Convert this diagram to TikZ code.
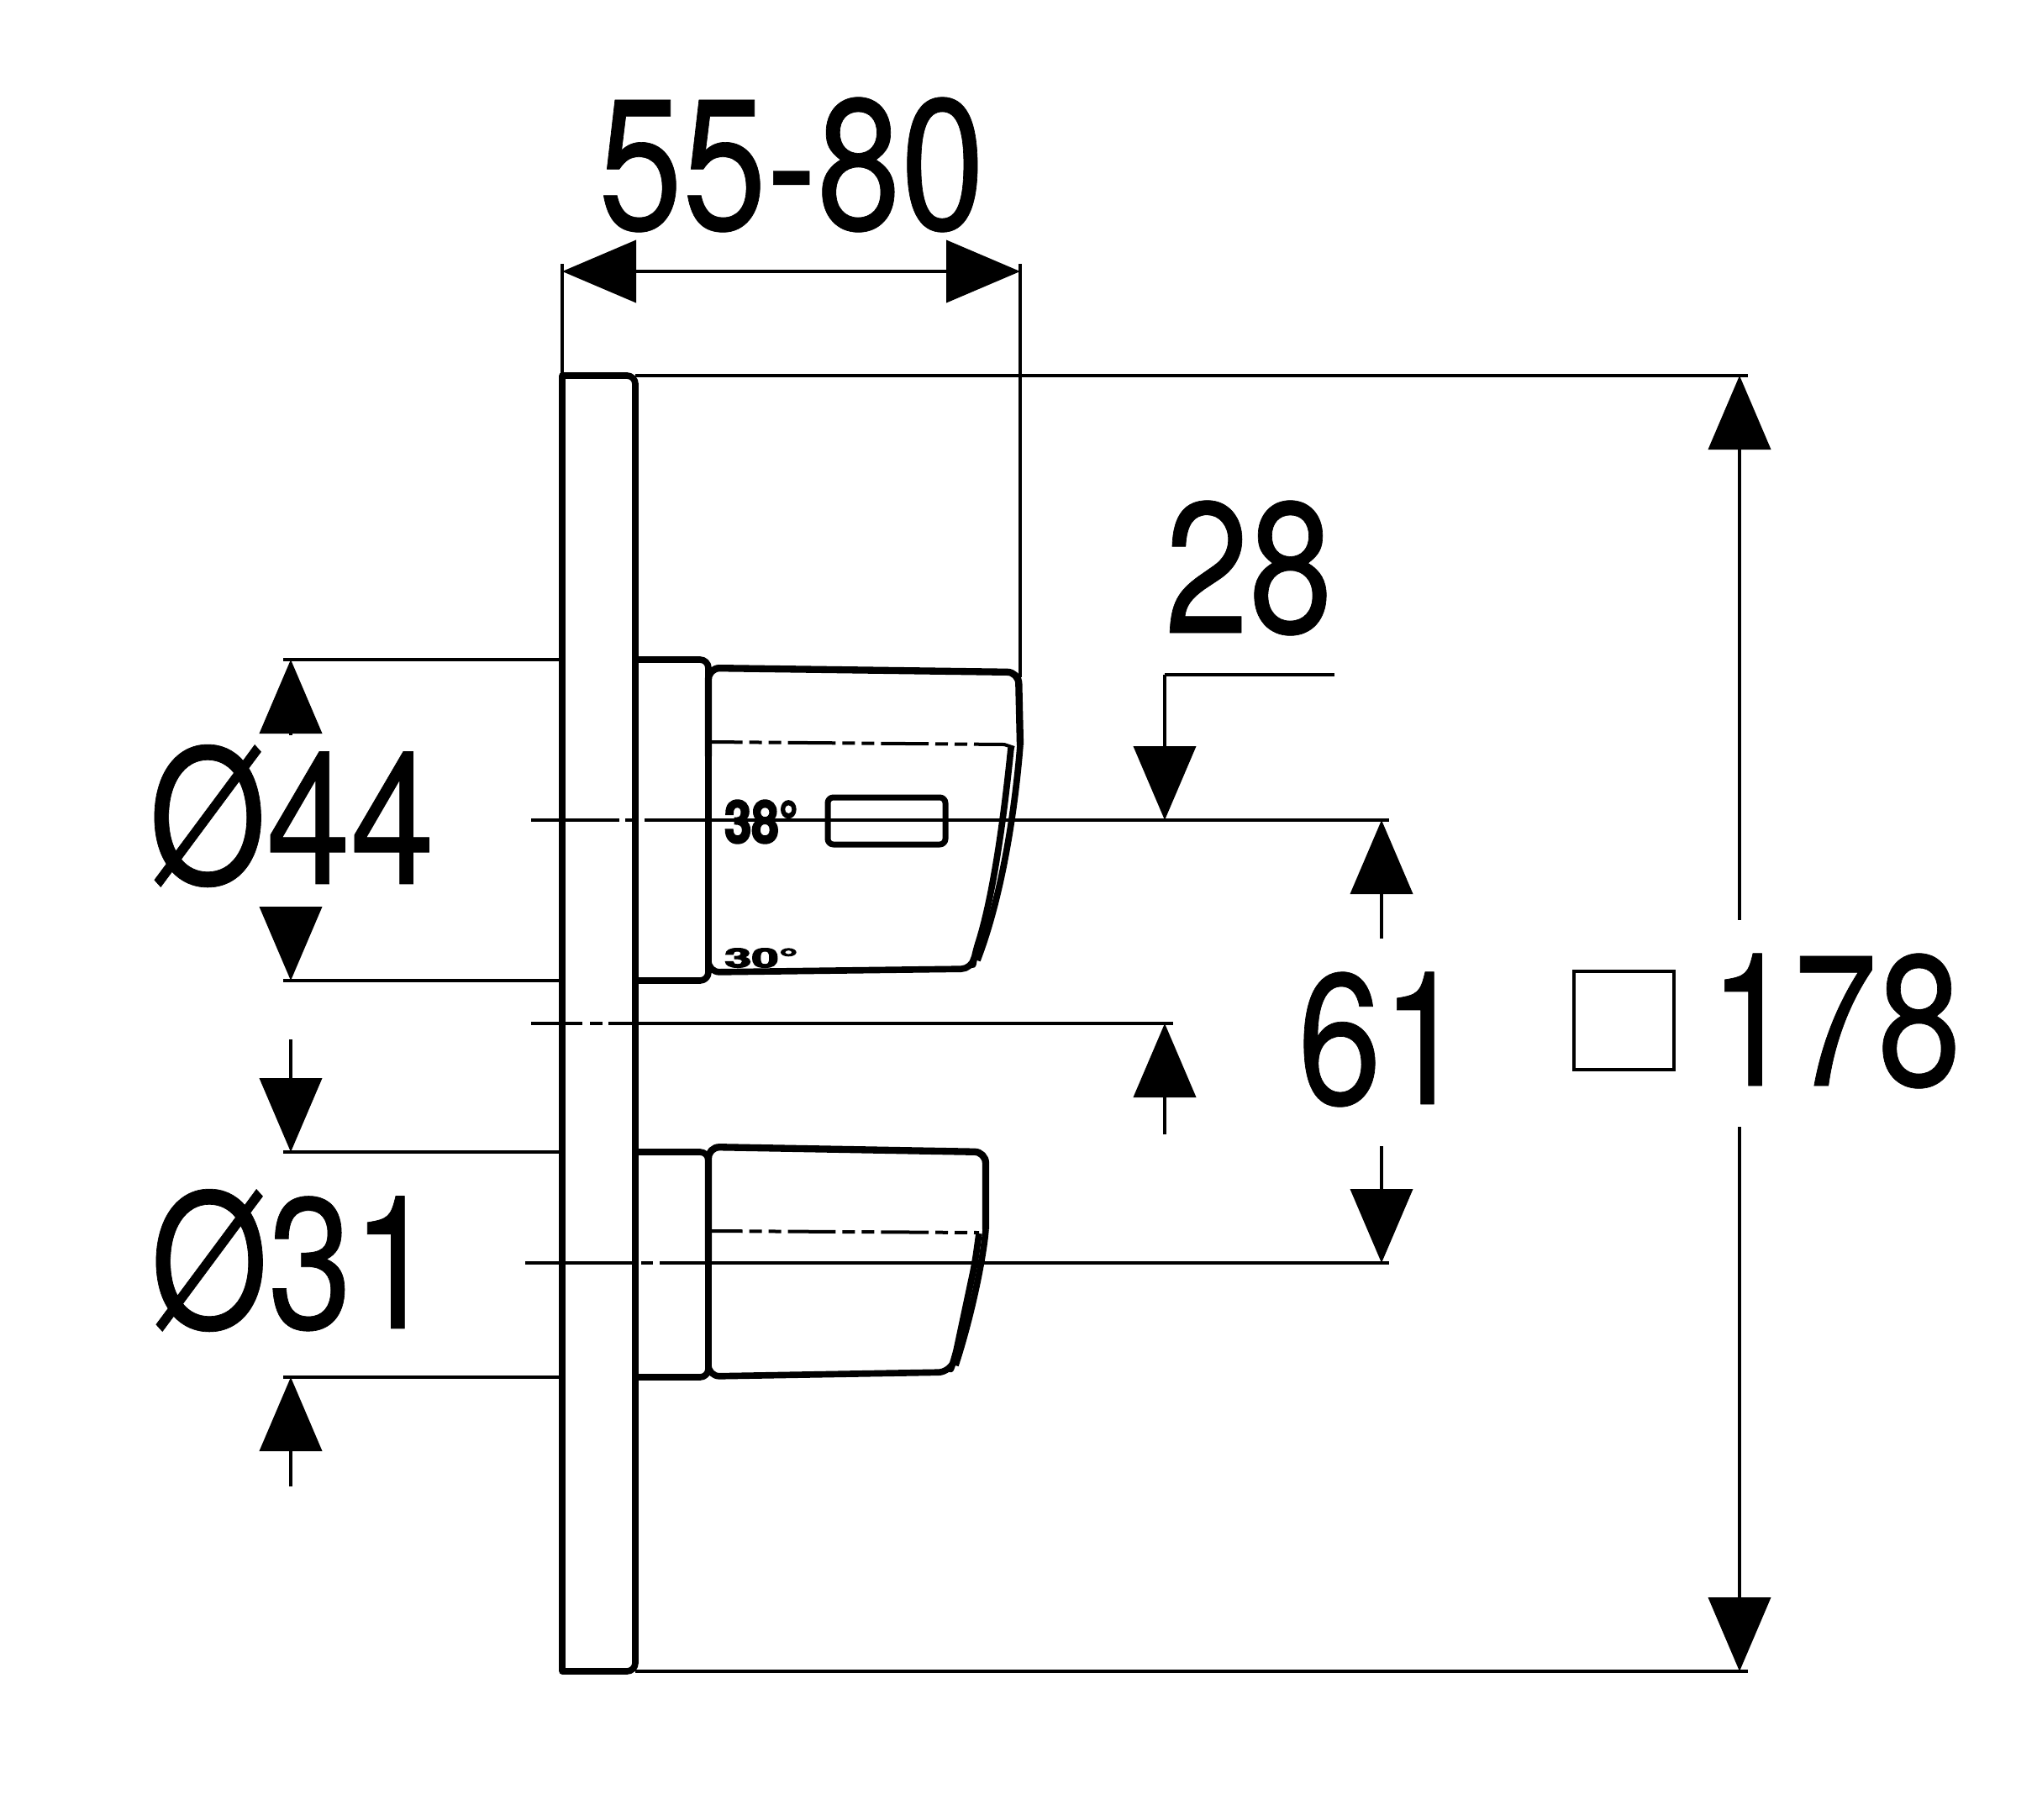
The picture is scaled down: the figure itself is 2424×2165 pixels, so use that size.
\documentclass[tikz,border=0pt]{standalone}
\usepackage{fontspec}
\usetikzlibrary{arrows.meta}
\newfontfamily\dimfont{TeX Gyre Heros}[FakeStretch=0.81,FakeBold=0.3]
\newfontfamily\markfont{TeX Gyre Heros}[FakeStretch=0.83,FakeBold=3]
\tikzset{
  dimtext/.style={inner sep=0pt,font=\dimfont\fontsize{66.6pt}{67pt}\selectfont},
  marktext/.style={inner sep=0pt,font=\markfont\bfseries\fontsize{21pt}{21pt}\selectfont},
  thinline/.style={line width=1.2pt},
  partline/.style={line width=2.3pt,line join=round},
  knobdash/.style={line width=1.2pt,dash pattern=on 17pt off 2.4pt on 4.5pt off 2.4pt on 4.5pt off 2.4pt,dash phase=5.7pt},
  dimarrow/.style={thinline,-{Triangle[length=26.4pt,width=22.2pt,sharp]}},
  dimboth/.style={thinline,{Triangle[length=26.4pt,width=22.2pt,sharp]}-{Triangle[length=26.4pt,width=22.2pt,sharp]}}
}
\begin{document}
\begin{tikzpicture}[x=0.3pt,y=-0.3pt]
\useasboundingbox (0,0) rectangle (2424,2165);
% plate and collars
\draw[partline] (669,447) -- (669,1989) [rounded corners=3pt] -- (756,1989) -- (756,447) [sharp corners] -- cycle;
\draw[partline,rounded corners=3pt] (756,785) -- (843,785) -- (843,1167) -- (756,1167);
\draw[partline,rounded corners=3pt] (756,1371) -- (843,1371) -- (843,1639) -- (756,1639);
% upper knob
\draw[partline,line width=2.5pt,rounded corners=4pt] (843,900) -- (843,795) -- (1212,800) -- (1214,887);
\draw[partline,rounded corners=4pt] (1203,890) .. controls (1197,950) and (1184,1060) .. (1160,1135) -- (1157,1153) -- (843,1157) -- (843,900);
\draw[partline] (1214,887) .. controls (1209,950) and (1195,1060) .. (1163,1143);
\draw[knobdash] (846,883) -- (1195,886) -- (1207,890);
\draw[partline,line width=2.1pt,rounded corners=2pt] (985,949) rectangle (1125,1005);
\node[marktext] (markhot) at (906,978) {38°};
\node[marktext,yscale=0.45,transform shape] (markcold) at (906,1140) {30°};
% lower knob
\draw[partline,line width=2.5pt,rounded corners=4pt] (843,1500) -- (843,1365) -- (1173,1371) -- (1173,1463);
\draw[partline,rounded corners=4pt] (1165,1468) -- (1160,1504) -- (1136,1617) -- (1130,1633) -- (843,1638) -- (843,1500);
\draw[partline] (1173,1463) .. controls (1170,1500) and (1155,1570) .. (1137,1625);
\draw[knobdash] (846,1465) -- (1165,1467);
% center lines
\draw[thinline] (632,976) -- (737,976) (744,976) -- (758,976) (767,976) -- (1653,976);
\draw[thinline] (625,1503) -- (752,1503) (763,1503) -- (777,1503) (785,1503) -- (1653,1503);
\draw[thinline] (632,1218) -- (693,1218) (702,1218) -- (717,1218) (724,1218) -- (1396,1218);
% extension lines
\draw[thinline] (669,314) -- (669,447) (1214,314) -- (1214,806);
\draw[thinline] (756,447) -- (2080,447) (756,1989) -- (2080,1989);
\draw[thinline] (337,785) -- (669,785) (337,1167) -- (669,1167);
\draw[thinline] (337,1371) -- (669,1371) (337,1639) -- (669,1639);
\draw[thinline] (1588,803) -- (1386,803);
% dimensions
\draw[dimboth] (669,323) -- (1214,323);
\node[dimtext] (widthlabel) at (942,196) {55-80};
\draw[dimarrow] (2070,1095) -- (2070,447);
\draw[dimarrow] (2070,1341) -- (2070,1989);
\draw[thinline] (1873,1156) rectangle (1992,1273);
\node[dimtext] (sizelabel) at (2184,1215) {178};
\draw[dimarrow] (1386,803) -- (1386,976);
\node[dimtext] (offsetlabel) at (1486,676) {28};
\draw[dimarrow] (1644,1117) -- (1644,976);
\draw[dimarrow] (1644,1364) -- (1644,1503);
\draw[dimarrow] (1386,1350) -- (1386,1218);
\node[dimtext] (spacelabel) at (1644,1237) {61};
\draw[dimarrow] (346,875) -- (346,785);
\draw[dimarrow] (346,1079) -- (346,1167);
\node[dimtext] (largelabel) at (347,971) {Ø44};
\draw[dimarrow] (346,1237) -- (346,1371);
\draw[dimarrow] (346,1769) -- (346,1639);
\node[dimtext] (smalllabel) at (349,1500) {Ø31};
\end{tikzpicture}
\end{document}
